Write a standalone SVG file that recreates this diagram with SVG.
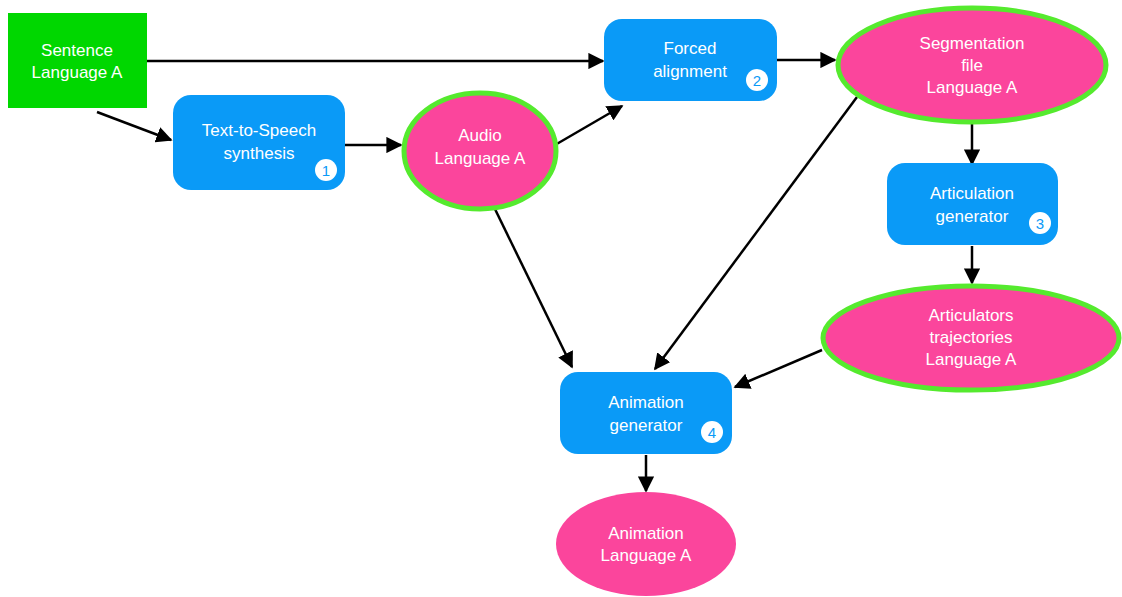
<svg xmlns="http://www.w3.org/2000/svg" width="1122" height="597" viewBox="0 0 1122 597">
<style>
.box{fill:#0a9af7}
.ell{fill:#fb459c;stroke:#55ea2e;stroke-width:5}
.ell2{fill:#fb459c}
.t{font-family:"Liberation Sans",Arial,sans-serif;font-size:17px;fill:#fff;text-anchor:middle}
.badge{fill:#fff}
.bt{font-family:"Liberation Sans",Arial,sans-serif;font-size:15px;fill:#0a9af7;text-anchor:middle}
.c{stroke:#000;stroke-width:2.5;fill:none;marker-end:url(#ah)}
</style>
<defs>
<marker id="ah" viewBox="0 0 10 10" refX="9" refY="5" markerWidth="6.5" markerHeight="6.5" orient="auto" markerUnits="strokeWidth">
<path d="M0,0 L10,5 L0,10 z" fill="#000"/>
</marker>
</defs>
<rect width="1122" height="597" fill="#fff"/>
<g id="connectors">
<line class="c" x1="147" y1="61" x2="603" y2="61"/>
<line class="c" x1="97" y1="112" x2="171" y2="140"/>
<line class="c" x1="345" y1="145" x2="401" y2="145"/>
<line class="c" x1="555" y1="145" x2="622" y2="106"/>
<line class="c" x1="777" y1="60" x2="835" y2="60"/>
<line class="c" x1="857" y1="97" x2="655" y2="369"/>
<line class="c" x1="493" y1="205" x2="572" y2="367"/>
<line class="c" x1="972" y1="123" x2="972" y2="164"/>
<line class="c" x1="972" y1="246" x2="972" y2="283"/>
<line class="c" x1="822" y1="350" x2="735" y2="387"/>
<line class="c" x1="646" y1="455" x2="646" y2="491"/>
</g>
<g id="sentence">
<rect x="8" y="13" width="139" height="95" fill="#00d700"/>
<text class="t" x="77" y="56">Sentence</text>
<text class="t" x="77" y="78">Language A</text>
</g>
<g id="tts">
<rect class="box" x="173" y="95" width="172" height="95" rx="18"/>
<text class="t" x="259" y="136">Text-to-Speech</text>
<text class="t" x="259" y="159">synthesis</text>
<circle class="badge" cx="326" cy="170" r="11"/>
<text class="bt" x="326" y="175.5">1</text>
</g>
<g id="forced">
<rect class="box" x="604" y="19" width="173" height="82" rx="18"/>
<text class="t" x="690" y="54">Forced</text>
<text class="t" x="690" y="77">alignment</text>
<circle class="badge" cx="757" cy="80" r="11"/>
<text class="bt" x="757" y="85.5">2</text>
</g>
<g id="audio">
<ellipse class="ell" cx="480" cy="151" rx="76" ry="58"/>
<text class="t" x="480" y="141">Audio</text>
<text class="t" x="480" y="164">Language A</text>
</g>
<g id="segmentation">
<ellipse class="ell" cx="972" cy="65" rx="134" ry="57"/>
<text class="t" x="972" y="49">Segmentation</text>
<text class="t" x="972" y="71">file</text>
<text class="t" x="972" y="93">Language A</text>
</g>
<g id="articulation">
<rect class="box" x="887" y="163" width="171" height="82" rx="18"/>
<text class="t" x="972" y="199">Articulation</text>
<text class="t" x="972" y="222">generator</text>
<circle class="badge" cx="1040" cy="223" r="11"/>
<text class="bt" x="1040" y="228.5">3</text>
</g>
<g id="articulators">
<ellipse class="ell" cx="971" cy="338" rx="148" ry="52"/>
<text class="t" x="971" y="321">Articulators</text>
<text class="t" x="971" y="343">trajectories</text>
<text class="t" x="971" y="365">Language A</text>
</g>
<g id="animgen">
<rect class="box" x="560" y="372" width="172" height="82" rx="18"/>
<text class="t" x="646" y="408">Animation</text>
<text class="t" x="646" y="431">generator</text>
<circle class="badge" cx="712" cy="432" r="11"/>
<text class="bt" x="712" y="437.5">4</text>
</g>
<g id="animation">
<ellipse class="ell2" cx="646" cy="544" rx="90" ry="52"/>
<text class="t" x="646" y="539">Animation</text>
<text class="t" x="646" y="561">Language A</text>
</g>
</svg>
